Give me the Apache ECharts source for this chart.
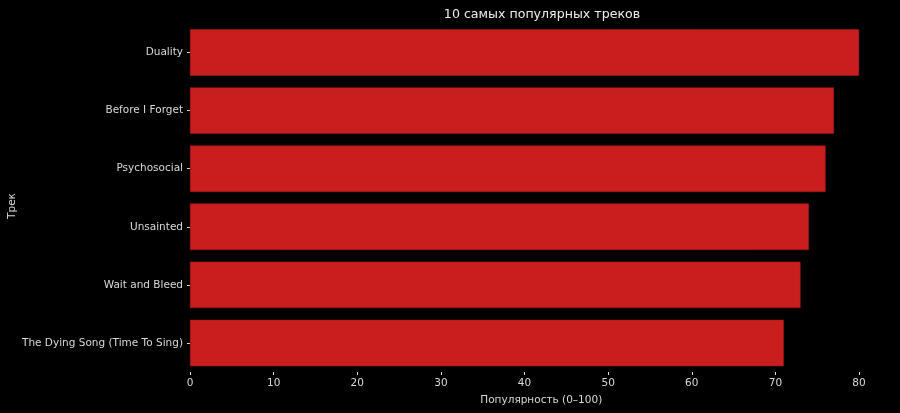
<!DOCTYPE html>
<html>
<head>
<meta charset="utf-8">
<script src="https://cdn.jsdelivr.net/npm/echarts@6/dist/echarts.min.js"></script>
<style>
html,body{margin:0;padding:0;background:#000;}
#chart{width:900px;height:413px;}
</style>
</head>
<body>
<div id="chart"></div>
<script>
const tracks = ["Duality", "Before I Forget", "Psychosocial", "Unsainted", "Wait and Bleed", "The Dying Song (Time To Sing)"];
const popularity = [80, 77, 76, 74, 73, 71];
const xTicks = [0, 10, 20, 30, 40, 50, 60, 70, 80];
const yAxisTitle = 'Трек';

const chart = echarts.init(document.getElementById('chart'));
const txt = '#d9d9d9';
const font = 'DejaVu Sans';
chart.setOption({
  backgroundColor: '#000000',
  animation: false,
  title: {
    text: '10 самых популярных треков',
    left: 537, top: 3, textAlign: 'center',
    textStyle: {color: '#eeeeee', fontFamily: font, fontSize: 12.6, fontWeight: 'normal'}
  },
  graphic: [{
    type: 'text', x: 12, y: 206, rotation: Math.PI / 2,
    style: {text: yAxisTitle, fill: txt, font: '10.5px "DejaVu Sans"', textAlign: 'center', textVerticalAlign: 'middle'}
  }],
  grid: {left: 190, right: 7.5, top: 23.5, bottom: 41, containLabel: false, outerBoundsMode: 'none'},
  xAxis: {
    type: 'value', min: 0, max: 84, interval: 10,
    name: 'Популярность (0–100)', nameLocation: 'middle', nameGap: 23,
    nameTextStyle: {color: txt, fontFamily: font, fontSize: 10.5},
    axisLine: {show: false},
    axisTick: {show: true, length: 3, lineStyle: {color: txt}},
    axisLabel: {color: txt, fontFamily: font, fontSize: 10.5, margin: 6, showMaxLabel: false,
      formatter: v => xTicks.includes(v) ? String(v) : ''},
    splitLine: {show: false}
  },
  yAxis: {
    type: 'category', data: tracks, inverse: true,
    axisLine: {show: false},
    axisTick: {show: true, length: 3, alignWithLabel: true, lineStyle: {color: txt}},
    axisLabel: {color: txt, fontFamily: font, fontSize: 10.5, margin: 7, padding: [2, 0, 0, 0]},
    splitLine: {show: false}
  },
  series: [{
    type: 'bar', data: popularity, barCategoryGap: '20%',
    itemStyle: {color: '#c81e1e', borderColor: '#a81818', borderWidth: 0.5}
  }]
});
</script>
</body>
</html>
